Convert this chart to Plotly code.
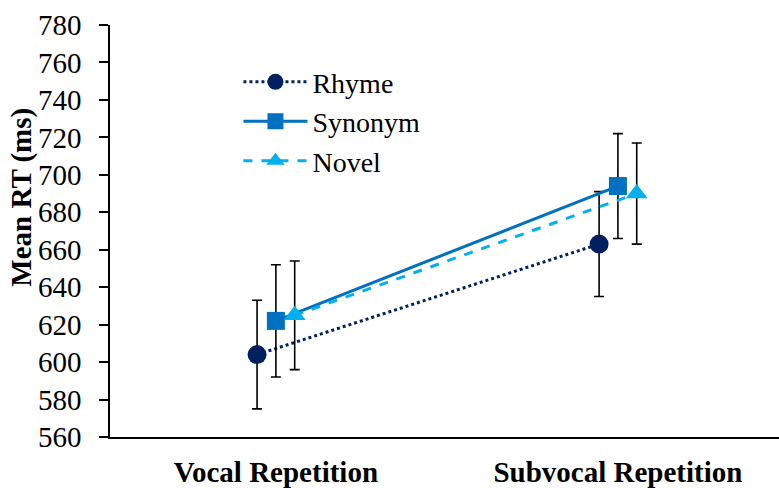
import plotly.graph_objects as go

conditions = ["Vocal Repetition", "Subvocal Repetition"]
series_names = ["Rhyme", "Synonym", "Novel"]
rhyme_mean = [604, 663]
rhyme_err = [29, 28]
synonym_mean = [622, 694]
synonym_err = [30, 28]
novel_mean = [625, 690]
novel_err = [29, 27]
y_ticks = list(range(560, 781, 20))
y_title = "Mean RT (ms)"

colors = ["#002060", "#0070C0", "#00B0F0"]
dashes = ["dot", "solid", "dash"]
symbols = ["circle", "square", "triangle-up"]
offsets = [-0.055, 0.0, 0.055]
means = [rhyme_mean, synonym_mean, novel_mean]
errs = [rhyme_err, synonym_err, novel_err]

base_x = list(range(len(conditions)))

fig = go.Figure()
for name, m, e, c, d, s, o in zip(series_names, means, errs, colors, dashes, symbols, offsets):
    fig.add_trace(go.Scatter(
        x=[bx + o for bx in base_x], y=m, name=name, mode="lines+markers",
        legendgroup=name,
        line=dict(color=c, width=3, dash=d),
        marker=dict(symbol=s, size=19 if s != "square" else 18, color=c),
        error_y=dict(type="data", array=e, visible=True, color="black", thickness=1.6, width=5),
    ))

font_family = "Liberation Serif"
fig.add_annotation(x=-0.1315, y=0.581, xref="paper", yref="paper", showarrow=False,
                   xanchor="center", yanchor="middle",
                   text="<b>" + y_title + "</b>", textangle=-90,
                   font=dict(size=29, family=font_family, color="black"))
fig.update_layout(
    width=779, height=488,
    margin=dict(l=110, r=0, t=25, b=48),
    plot_bgcolor="white", paper_bgcolor="white",
    font=dict(family=font_family, color="black", size=29),
    showlegend=True,
    legend=dict(x=0.192, y=0.922, xanchor="left", yanchor="top",
                font=dict(size=28, family=font_family), bgcolor="rgba(0,0,0,0)",
                itemwidth=64, tracegroupgap=0),
    xaxis=dict(range=[-0.485, 1.471], tickvals=base_x, ticktext=conditions,
               showgrid=False, zeroline=False, showline=True, linecolor="black", linewidth=1.5,
               ticks="", tickfont=dict(size=29, family=font_family, weight="bold"),
               ticklabelstandoff=8),
    yaxis=dict(range=[560, 780], tickvals=y_ticks, showgrid=False, zeroline=False,
               showline=True, linecolor="black", linewidth=1.5,
               ticks="outside", ticklen=9, tickwidth=1.5, tickcolor="black",
               tickfont=dict(size=29, family=font_family),
               ticklabelstandoff=12),
)

fig.write_html("out.html")
